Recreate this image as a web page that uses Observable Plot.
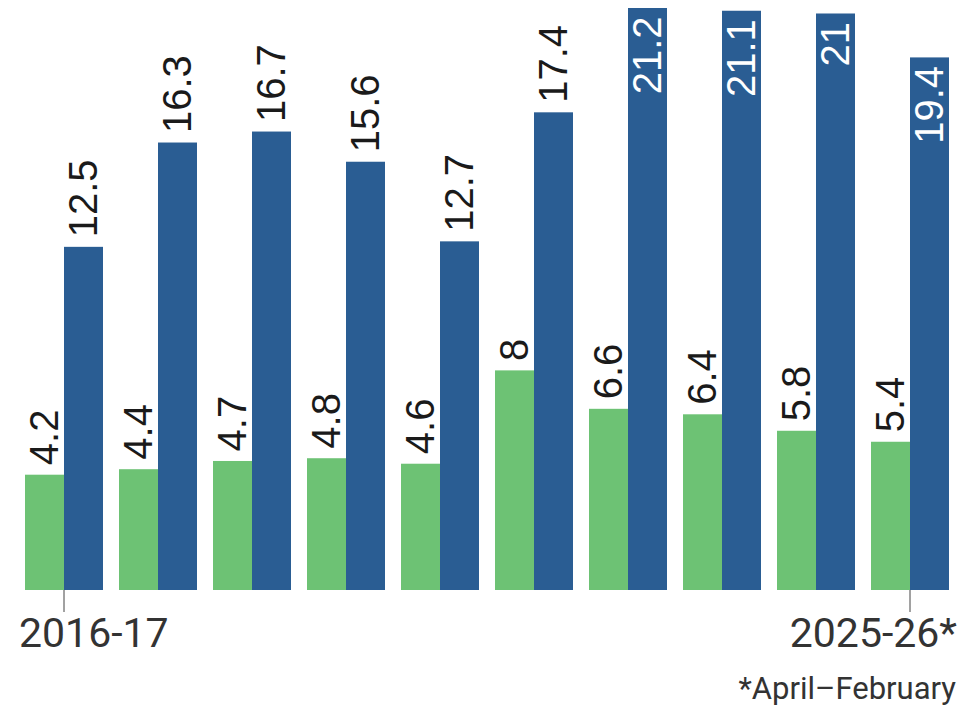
<!DOCTYPE html>
<html>
<head>
<meta charset="utf-8">
<script src="https://cdn.jsdelivr.net/npm/d3@7"></script>
<script src="https://cdn.jsdelivr.net/npm/@observablehq/plot@0.6"></script>
<style>
  html, body { margin: 0; padding: 0; background: #fff; }
  #chart { width: 964px; }
  #caption { width: 964px; box-sizing: border-box; text-align: right; padding-right: 8px; padding-top: 9px;
    font-family: Roboto, "Liberation Sans", sans-serif; font-size: 31px; line-height: 40px; color: #333; }
</style>
</head>
<body>
<div id="chart"></div>
<div id="caption">*April–February</div>
<script>
const years = ["2016-17","2017-18","2018-19","2019-20","2020-21","2021-22","2022-23","2023-24","2024-25","2025-26"];
const seriesNames = ["Series A", "Series B"];
const seriesAValues = [4.2, 4.4, 4.7, 4.8, 4.6, 8, 6.6, 6.4, 5.8, 5.4];
const seriesBValues = [12.5, 16.3, 16.7, 15.6, 12.7, 17.4, 21.2, 21.1, 21, 19.4];
const firstTickLabel = "2016-17";
const lastTickLabel = "2025-26*";
const colors = ["#6dc274", "#2a5d93"];

const rows = [];
years.forEach((y, i) => {
  rows.push({year: y, series: seriesNames[0], value: seriesAValues[i]});
  rows.push({year: y, series: seriesNames[1], value: seriesBValues[i]});
});
const insideThreshold = 19;
const outside = rows.filter(d => d.value < insideThreshold);
const inside = rows.filter(d => d.value >= insideThreshold);
const axisFont = "Roboto, 'Liberation Sans', sans-serif";

const plot = Plot.plot({
  width: 964,
  height: 660,
  marginTop: 8,
  marginBottom: 70,
  marginLeft: 20,
  marginRight: 12,
  style: {fontFamily: "'Liberation Sans', Arial, sans-serif", background: "#fff"},
  fx: {domain: years, paddingInner: 0.16, paddingOuter: 0, label: null},
  x: {domain: seriesNames, padding: 0, axis: null},
  y: {domain: [0, 21.2], axis: null},
  color: {domain: seriesNames, range: colors},
  marks: [
    Plot.barY(rows, {fx: "year", x: "series", y: "value", fill: "series"}),
    Plot.text(outside, {fx: "year", x: "series", y: "value", text: d => String(d.value),
      rotate: -90, textAnchor: "start", dy: -10, fontSize: 40, fill: "#1a1a1a"}),
    Plot.text(inside, {fx: "year", x: "series", y: "value", text: d => String(d.value),
      rotate: -90, textAnchor: "end", dy: 8, fontSize: 40, fill: "#ffffff"}),
    Plot.axisFx({ticks: [years[0], years[years.length - 1]], anchor: "bottom", tickSize: 22,
      stroke: "#444", text: null, label: null}),
    Plot.axisFx({ticks: [years[0]], anchor: "bottom", tickSize: 0, tickPadding: 27, fontSize: 41,
      textAnchor: "start", dx: -45, fill: "#333",
      fontFamily: axisFont, tickFormat: () => firstTickLabel, label: null}),
    Plot.axisFx({ticks: [years[years.length - 1]], anchor: "bottom", tickSize: 0, tickPadding: 27, fontSize: 41,
      textAnchor: "end", dx: 47, fill: "#333",
      fontFamily: axisFont, tickFormat: () => lastTickLabel, label: null})
  ]
});
document.getElementById("chart").appendChild(plot);
</script>
</body>
</html>
